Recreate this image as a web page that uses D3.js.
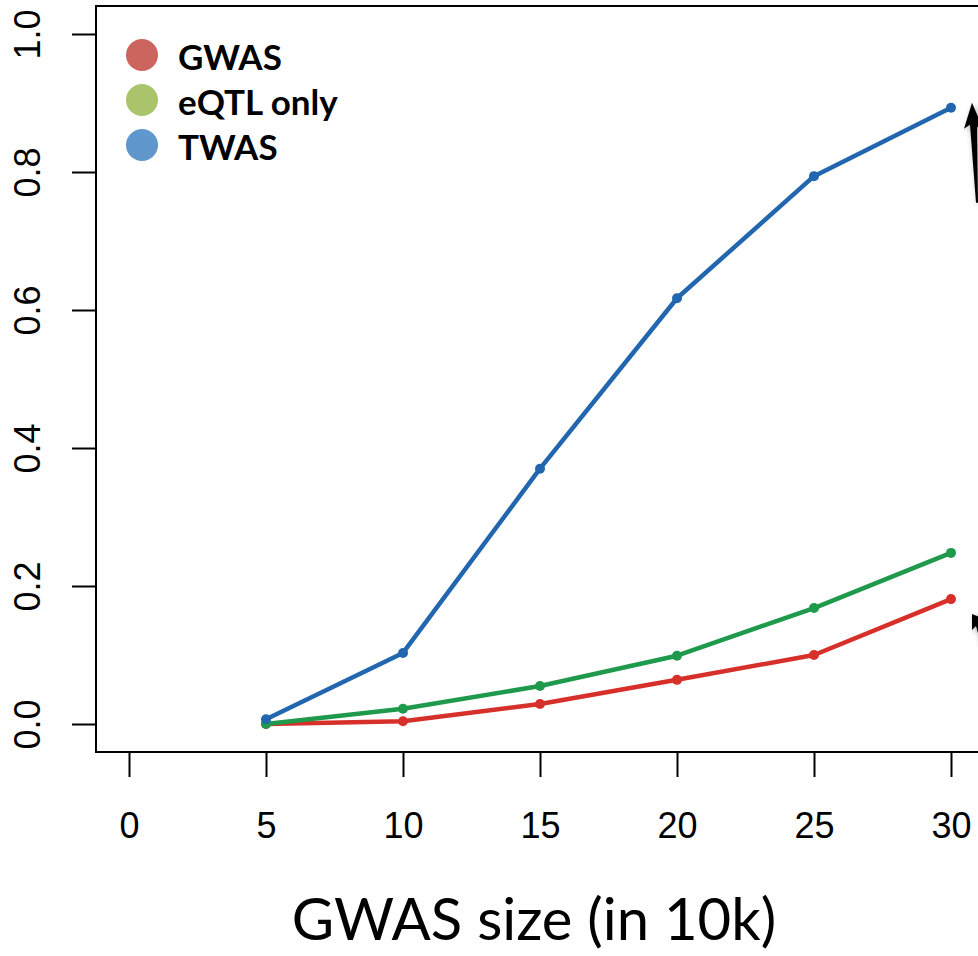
<!DOCTYPE html>
<html><head><meta charset="utf-8">
<script src="https://cdn.jsdelivr.net/npm/d3@7"></script>
<style>body{margin:0;background:#fff;}svg{display:block;}</style>
</head><body>
<script>
const sizes = [5, 10, 15, 20, 25, 30];
const gwas  = [0.000, 0.004, 0.029, 0.064, 0.100, 0.181];
const eqtl  = [0.000, 0.022, 0.055, 0.099, 0.168, 0.248];
const twas  = [0.007, 0.103, 0.370, 0.617, 0.794, 0.893];
const seriesNames = ["GWAS", "eQTL only", "TWAS"];
const lineColors = ["#d7302a", "#1f9a4c", "#2166ae"];
const legendColors = ["#cc655d", "#a9c46a", "#6097cc"];
const xTicks = [0, 5, 10, 15, 20, 25, 30];
const yTicks = [0.0, 0.2, 0.4, 0.6, 0.8, 1.0];
const xTitle = "GWAS size (in 10k)";

const W = 978, H = 956;
const svg = d3.select("body").append("svg").attr("width", W).attr("height", H);

const x = d3.scaleLinear().domain([0, 30]).range([129, 951]);
const y = d3.scaleLinear().domain([0, 1]).range([724, 34]);
const boxLeft = 96, boxTop = 6, boxBottom = 752;

// box (right side is off-canvas)
svg.append("path")
  .attr("d", `M${W+10},${boxTop}H${boxLeft}V${boxBottom}H${W+10}`)
  .attr("fill", "none").attr("stroke", "#000").attr("stroke-width", 2);

// y axis
const yAxis = d3.axisLeft(y).tickValues(yTicks).tickSize(24).tickPadding(0).tickFormat(d3.format(".1f"));
const gy = svg.append("g").attr("transform", `translate(${boxLeft},0)`).call(yAxis);
gy.select(".domain").remove();
gy.selectAll(".tick line").attr("stroke", "#000").attr("stroke-width", 2);
gy.selectAll(".tick text")
  .attr("font-family", "Liberation Sans, Arial, sans-serif").attr("font-size", 36).attr("fill", "#000")
  .attr("text-anchor", "middle").attr("dy", null)
  .attr("transform", "translate(-69,0) rotate(-90)").attr("x", 0).attr("y", 0)
  .attr("dominant-baseline", "central");

// x axis
const xAxis = d3.axisBottom(x).tickValues(xTicks).tickSize(25).tickPadding(0).tickFormat(d3.format("d"));
const gx = svg.append("g").attr("transform", `translate(0,${boxBottom})`).call(xAxis);
gx.select(".domain").remove();
gx.selectAll(".tick line").attr("stroke", "#000").attr("stroke-width", 2);
gx.selectAll(".tick text")
  .attr("font-family", "Liberation Sans, Arial, sans-serif").attr("font-size", 36).attr("fill", "#000")
  .attr("y", 86).attr("dy", null);

// lines
const allSeries = [gwas, eqtl, twas];
const line = d3.line().x((d, i) => x(sizes[i])).y(d => y(d));
[0, 1, 2].forEach(k => {
  svg.append("path").datum(allSeries[k]).attr("d", line)
    .attr("fill", "none").attr("stroke", lineColors[k]).attr("stroke-width", 4.5)
    .attr("stroke-linejoin", "round");
  svg.selectAll(null).data(allSeries[k]).enter().append("circle")
    .attr("cx", (d, i) => x(sizes[i])).attr("cy", d => y(d)).attr("r", 5)
    .attr("fill", lineColors[k]);
});

// legend
const lg = svg.append("g");
seriesNames.forEach((n, i) => {
  lg.append("circle").attr("cx", 142).attr("cy", 55 + i * 45).attr("r", 16).attr("fill", legendColors[i]);
  lg.append("text").attr("x", 178).attr("y", 56 + i * 45).attr("dominant-baseline", "central")
    .attr("font-family", "Lato, Open Sans, sans-serif").attr("font-weight", "bold").attr("font-size", 35)
    .attr("fill", "#000").text(n);
});

// x title
svg.append("text").attr("x", 534).attr("y", 940).attr("text-anchor", "middle")
  .attr("font-family", "Lato, Open Sans, sans-serif").attr("font-size", 58).attr("fill", "#000")
  .text(xTitle);

// partial annotation arrows at right edge
const defs = svg.append("defs");
defs.append("filter").attr("id", "sh").append("feDropShadow")
  .attr("dx", 2).attr("dy", 2).attr("stdDeviation", 3).attr("flood-color", "#000").attr("flood-opacity", 0.35);
const ax = x(30) + 21, ay1 = y(twas[5]) - 5;
svg.append("path")
  .attr("d", `M${ax},${ay1} L${ax+12},${ay1+28} L${ax+5},${ay1+24} L${ax+6},${ay1+100} L${ax+4},${ay1+100} L${ax-2},${ay1+22} L${ax-8},${ay1+26} Z`)
  .attr("fill", "#000").attr("filter", "url(#sh)");
const by = y(gwas[5]) + 15;
svg.append("path")
  .attr("d", `M${ax},${by} L${ax+10},${by+4} L${ax+8},${by+10} L${ax+14},${by+34} L${ax+10},${by+34} L${ax+4},${by+12} L${ax},${by+16} Z`)
  .attr("fill", "#000").attr("filter", "url(#sh)");
</script>
</body></html>
